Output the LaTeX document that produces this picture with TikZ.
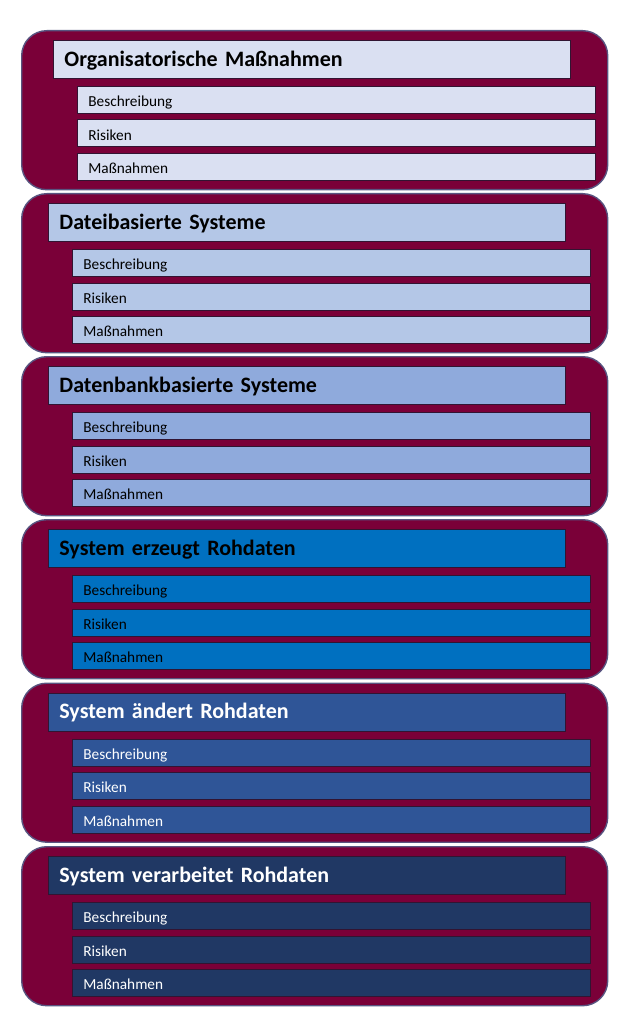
\documentclass[tikz,border=0pt]{standalone}
\usepackage{fontspec}
\setmainfont{Carlito}
\definecolor{panelred}{RGB}{122,0,56}
\definecolor{panelline}{RGB}{88,84,128}
\definecolor{boxline}{RGB}{50,20,50}
\definecolor{cA}{RGB}{218,224,242}
\definecolor{cB}{RGB}{180,199,231}
\definecolor{cC}{RGB}{143,170,220}
\definecolor{cD}{RGB}{0,112,192}
\definecolor{cE}{RGB}{47,85,151}
\definecolor{cF}{RGB}{32,56,100}
\tikzset{
  panel/.style={draw=panelline, line width=1.4pt, fill=panelred, rounded corners=25pt,
    minimum width=586pt, minimum height=159pt, anchor=north west, inner sep=0pt},
  titlebox/.style={draw=boxline, line width=0.8pt, anchor=north west,
    minimum height=38pt, text width=495pt, inner xsep=11pt, inner ysep=0pt, align=left,
    text height=13.4pt, text depth=0pt,
    font=\fontsize{22}{26}\selectfont\bfseries},
  subbox/.style={draw=boxline, line width=0.8pt, anchor=north west,
    minimum height=27pt, text width=496pt, inner xsep=11pt, inner ysep=0pt, align=left,
    text height=13.6pt, text depth=0pt,
    font=\fontsize{15.3}{18}\selectfont},
}
\begin{document}
\begin{tikzpicture}[x=1pt,y=-1pt]
\useasboundingbox (0,0) rectangle (638,1024);
\foreach \i/\top/\dx/\fc/\tc/\ttl in {
  1/30/5/cA/black/{Organisatorische Maßnahmen},
  2/193/0/cB/black/{Dateibasierte Systeme},
  3/356/0/cC/black/{Datenbankbasierte Systeme},
  4/519/0/cD/black/{System erzeugt Rohdaten},
  5/682.5/0/cE/white/{System ändert Rohdaten},
  6/846/0/cF/white/{System verarbeitet Rohdaten}}{
  \node[panel] (p\i) at (21,\top) {};
  \node[titlebox, fill=\fc, text=\tc] (t\i) at (48+\dx,\top+10) {\ttl};
  \node[subbox, fill=\fc, text=\tc] (b\i) at (72+\dx,\top+56) {Beschreibung};
  \node[subbox, fill=\fc, text=\tc] (r\i) at (72+\dx,\top+89.5) {Risiken};
  \node[subbox, fill=\fc, text=\tc] (m\i) at (72+\dx,\top+123) {Maßnahmen};
}
\end{tikzpicture}
\end{document}
